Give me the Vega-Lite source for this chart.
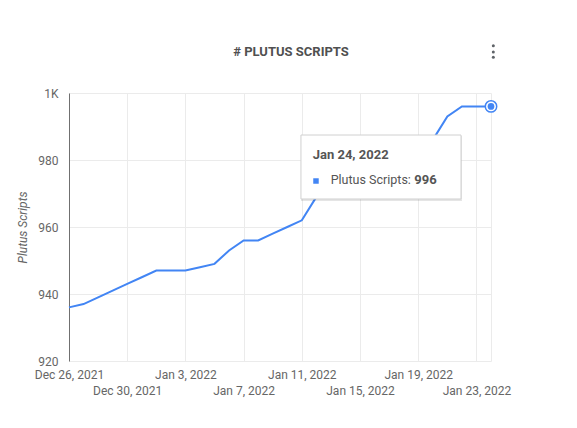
{
  "$schema": "https://vega.github.io/schema/vega-lite/v6.json",
  "width": 422,
  "height": 268,
  "autosize": "none",
  "padding": {"left": 69, "top": 93, "right": 86, "bottom": 67},
  "background": "white",
  "config": {"font": "Roboto", "view": {"stroke": null}},
  "title": {"text": "# PLUTUS SCRIPTS", "fontSize": 13, "fontWeight": "bold", "color": "#505050", "anchor": "middle", "frame": "group", "dx": 11, "baseline": "alphabetic", "offset": -25},
  "layer": [
    {
      "data": {"values": [
        {"date": "2021-12-26", "scripts": 936},
        {"date": "2021-12-27", "scripts": 937},
        {"date": "2021-12-28", "scripts": 939},
        {"date": "2021-12-29", "scripts": 941},
        {"date": "2021-12-30", "scripts": 943},
        {"date": "2021-12-31", "scripts": 945},
        {"date": "2022-01-01", "scripts": 947},
        {"date": "2022-01-02", "scripts": 947},
        {"date": "2022-01-03", "scripts": 947},
        {"date": "2022-01-04", "scripts": 948},
        {"date": "2022-01-05", "scripts": 949},
        {"date": "2022-01-06", "scripts": 953},
        {"date": "2022-01-07", "scripts": 956},
        {"date": "2022-01-08", "scripts": 956},
        {"date": "2022-01-09", "scripts": 958},
        {"date": "2022-01-10", "scripts": 960},
        {"date": "2022-01-11", "scripts": 962},
        {"date": "2022-01-12", "scripts": 969},
        {"date": "2022-01-13", "scripts": 971},
        {"date": "2022-01-14", "scripts": 973},
        {"date": "2022-01-15", "scripts": 975},
        {"date": "2022-01-16", "scripts": 977},
        {"date": "2022-01-17", "scripts": 980},
        {"date": "2022-01-18", "scripts": 982},
        {"date": "2022-01-19", "scripts": 984},
        {"date": "2022-01-20", "scripts": 986},
        {"date": "2022-01-21", "scripts": 993},
        {"date": "2022-01-22", "scripts": 996},
        {"date": "2022-01-23", "scripts": 996},
        {"date": "2022-01-24", "scripts": 996}
      ]},
      "mark": {"type": "line", "color": "#4285f4", "strokeWidth": 2},
      "encoding": {
        "x": {
          "field": "date", "type": "temporal",
          "scale": {"type": "utc", "domain": [1640476800000, 1642982400000], "nice": false},
          "axis": {
            "title": null,
            "values": [1640476800000, 1640822400000, 1641168000000, 1641513600000, 1641859200000, 1642204800000, 1642550400000, 1642896000000, 1642982400000],
            "format": "%b %-d, %Y",
            "labelExpr": "(round((datum.value-1640476800000)/86400000)%4!=0)?'':((round((datum.value-1640476800000)/86400000)/4)%2==1?['',datum.label]:datum.label)",
            "labelOverlap": false, "labelFlush": false,
            "labelFontSize": 12, "labelColor": "#666666",
            "labelPadding": 8, "labelBaseline": "top", "labelLineHeight": 16,
            "domain": false, "ticks": false,
            "gridColor": "#ebebeb", "gridWidth": 1
          }
        },
        "y": {
          "field": "scripts", "type": "quantitative",
          "scale": {"domain": [920, 1000], "nice": false, "zero": false},
          "axis": {
            "title": "Plutus Scripts",
            "values": [920, 930, 940, 950, 960, 970, 980, 990, 1000],
            "labelExpr": "datum.value==1000?'1K':(datum.value%20==0?datum.label:'')",
            "ticks": false, "domain": true, "domainColor": "#707070", "domainWidth": 1,
            "labelPadding": 11, "labelFontSize": 12, "labelColor": "#666666",
            "gridColor": "#ebebeb", "gridWidth": 1,
            "titleFontStyle": "italic", "titleFontWeight": "normal", "titleFontSize": 12, "titleColor": "#666666",
            "titleX": -47, "titleY": 134, "titleAngle": -90, "titleAlign": "center", "titleBaseline": "middle"
          }
        }
      }
    },
    {
      "data": {"values": [{}]},
      "mark": {"type": "point", "shape": "circle", "filled": true, "fill": "white", "stroke": "#4285f4", "strokeWidth": 1.5, "size": 130, "opacity": 1},
      "encoding": {
        "x": {"datum": 1642982400000, "type": "temporal"},
        "y": {"datum": 996, "type": "quantitative"}
      }
    },
    {
      "data": {"values": [{}]},
      "mark": {"type": "circle", "color": "#4285f4", "size": 45, "opacity": 1},
      "encoding": {
        "x": {"datum": 1642982400000, "type": "temporal"},
        "y": {"datum": 996, "type": "quantitative"}
      }
    },
    {
      "data": {"values": [{}]},
      "mark": {"type": "rect", "fill": "#000000", "opacity": 0.1},
      "encoding": {
        "x": {"datum": 1641854016000, "type": "temporal"},
        "x2": {"datum": 1642810118400},
        "y": {"datum": 987.16, "type": "quantitative"},
        "y2": {"datum": 967.76}
      }
    },
    {
      "data": {"values": [{}]},
      "mark": {"type": "rect", "fill": "#ffffff", "stroke": "#d0d0d0", "strokeWidth": 1},
      "encoding": {
        "x": {"datum": 1641854016000, "type": "temporal"},
        "x2": {"datum": 1642804416000},
        "y": {"datum": 987.46, "type": "quantitative"},
        "y2": {"datum": 968.36}
      }
    },
    {
      "data": {"values": [{}]},
      "mark": {"type": "text", "text": "Jan 24, 2022", "align": "left", "baseline": "alphabetic", "fontSize": 13, "fontWeight": "bold", "color": "#555555"},
      "encoding": {
        "x": {"datum": 1641923740800, "type": "temporal"},
        "y": {"datum": 980.3, "type": "quantitative"}
      }
    },
    {
      "data": {"values": [{}]},
      "mark": {"type": "point", "shape": "square", "filled": true, "color": "#4285f4", "size": 30, "opacity": 1},
      "encoding": {
        "x": {"datum": 1641943267200, "type": "temporal"},
        "y": {"datum": 973.73, "type": "quantitative"}
      }
    },
    {
      "data": {"values": [{}]},
      "mark": {"type": "text", "text": "Plutus Scripts:", "align": "left", "baseline": "alphabetic", "fontSize": 12.5, "color": "#555555"},
      "encoding": {
        "x": {"datum": 1642030617600, "type": "temporal"},
        "y": {"datum": 972.69, "type": "quantitative"}
      }
    },
    {
      "data": {"values": [{}]},
      "mark": {"type": "text", "text": "996", "align": "left", "baseline": "alphabetic", "fontSize": 13, "fontWeight": "bold", "color": "#555555"},
      "encoding": {
        "x": {"datum": 1642526640000, "type": "temporal"},
        "y": {"datum": 972.69, "type": "quantitative"}
      }
    },
    {
      "data": {"values": [{}]},
      "mark": {"type": "circle", "color": "#5f6368", "size": 9, "opacity": 1},
      "encoding": {
        "x": {"datum": 1642996224000, "type": "temporal"},
        "y": {"datum": 1014.12, "type": "quantitative"}
      }
    },
    {
      "data": {"values": [{}]},
      "mark": {"type": "circle", "color": "#5f6368", "size": 9, "opacity": 1},
      "encoding": {
        "x": {"datum": 1642996224000, "type": "temporal"},
        "y": {"datum": 1012.24, "type": "quantitative"}
      }
    },
    {
      "data": {"values": [{}]},
      "mark": {"type": "circle", "color": "#5f6368", "size": 9, "opacity": 1},
      "encoding": {
        "x": {"datum": 1642996224000, "type": "temporal"},
        "y": {"datum": 1010.66, "type": "quantitative"}
      }
    }
  ]
}
